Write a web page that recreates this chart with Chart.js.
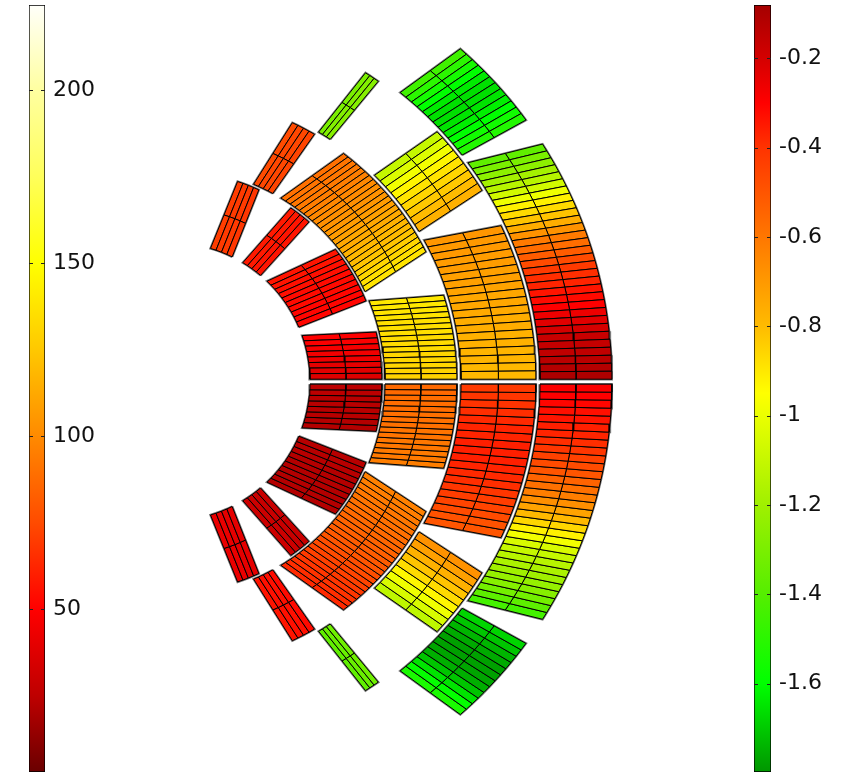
<!DOCTYPE html>
<html>
<head>
<meta charset="utf-8">
<script src="https://cdn.jsdelivr.net/npm/chart.js@4.4.0/dist/chart.umd.min.js"></script>
<style>
  html, body { margin: 0; padding: 0; background: #fff; }
  #wrap { position: relative; width: 851px; height: 773px; }
  #wrap canvas { position: absolute; top: 0; }
</style>
</head>
<body>
<div id="wrap">
  <canvas id="coil" width="851" height="773" style="left:0"></canvas>
  <canvas id="barLeft" width="110" height="773" style="left:0"></canvas>
  <canvas id="barRight" width="111" height="773" style="left:740px"></canvas>
</div>
<script>
// colour bars
const leftRange = [3, 224.7];
const leftTicks = [50, 100, 150, 200];
const leftTickLabels = ['50', '100', '150', '200'];
const rightRange = [-1.798, -0.081];
const rightTicks = [-1.6, -1.4, -1.2, -1, -0.8, -0.6, -0.4, -0.2];
const rightTickLabels = ['-1.6', '-1.4', '-1.2', '-1', '-0.8', '-0.6', '-0.4', '-0.2'];

// coil cross-section: layer radii, block edges (deg: lower in, lower out, upper in, upper out)
const layerRadii = [[139, 211], [214, 286], [290, 365], [369, 441]];
const blockLayer = [0, 0, 0, 0, 1, 1, 1, 2, 2, 2, 3, 3];
const blockCables = [8, 10, 4, 4, 15, 23, 4, 19, 9, 3, 31, 12];
const blockEdges = [
  [1.03, 0.68, 19.4, 13.6],
  [23.1, 22.5, 46.3, 38.8],
  [49.9, 49.2, 58.9, 55.4],
  [63.9, 65.4, 73.5, 71.6],
  [0.67, 0.5, 22.2, 17.6],
  [24.9, 27.0, 59.1, 52.9],
  [61.6, 59.9, 67.3, 64.9],
  [0.49, 0.39, 29.2, 25.3],
  [31.2, 31.6, 45.4, 43.2],
  [56.7, 55.4, 59.4, 57.8],
  [0.39, 0.32, 36.4, 32.6],
  [37.9, 36.4, 51.6, 49.0]
];

// value per cable, first cable next to the midplane
const upperValues = [
  [-0.22, -0.23, -0.24, -0.26, -0.27, -0.28, -0.29, -0.30],
  [-0.31, -0.31, -0.31, -0.32, -0.32, -0.32, -0.33, -0.33, -0.34, -0.34],
  [-0.34, -0.34, -0.35, -0.35],
  [-0.41, -0.42, -0.42, -0.43],
  [-0.85, -0.85, -0.86, -0.86, -0.86, -0.87, -0.87, -0.87, -0.88, -0.88, -0.88, -0.89, -0.89, -0.90, -0.90],
  [-0.89, -0.88, -0.86, -0.84, -0.82, -0.80, -0.79, -0.77, -0.75, -0.74, -0.72, -0.71, -0.69, -0.68, -0.67, -0.66, -0.65, -0.63, -0.62, -0.61, -0.60, -0.59, -0.58],
  [-0.45, -0.46, -0.46, -0.47],
  [-0.79, -0.79, -0.78, -0.78, -0.77, -0.77, -0.76, -0.76, -0.75, -0.74, -0.74, -0.73, -0.72, -0.72, -0.71, -0.71, -0.70, -0.70, -0.69],
  [-0.77, -0.80, -0.83, -0.86, -0.89, -0.93, -0.98, -1.04, -1.10],
  [-1.27, -1.28, -1.30],
  [-0.10, -0.12, -0.135, -0.15, -0.16, -0.17, -0.20, -0.23, -0.26, -0.30, -0.32, -0.34, -0.37, -0.39, -0.42, -0.47, -0.52, -0.57, -0.61, -0.68, -0.76, -0.82, -0.87, -0.92, -0.99, -1.07, -1.14, -1.19, -1.25, -1.30, -1.37],
  [-1.52, -1.56, -1.60, -1.63, -1.65, -1.66, -1.66, -1.64, -1.60, -1.55, -1.50, -1.45]
];
const lowerValues = [
  [-0.14, -0.14, -0.13, -0.13, -0.13, -0.13, -0.12, -0.12],
  [-0.13, -0.13, -0.13, -0.12, -0.12, -0.12, -0.12, -0.12, -0.12, -0.12],
  [-0.17, -0.17, -0.18, -0.18],
  [-0.24, -0.24, -0.25, -0.25],
  [-0.56, -0.56, -0.57, -0.57, -0.57, -0.58, -0.58, -0.58, -0.59, -0.59, -0.60, -0.60, -0.61, -0.61, -0.62],
  [-0.63, -0.62, -0.61, -0.60, -0.59, -0.58, -0.57, -0.56, -0.55, -0.54, -0.53, -0.52, -0.51, -0.50, -0.48, -0.47, -0.45, -0.44, -0.42, -0.41, -0.40, -0.39, -0.38],
  [-0.32, -0.33, -0.33, -0.34],
  [-0.42, -0.41, -0.40, -0.39, -0.38, -0.37, -0.37, -0.36, -0.36, -0.36, -0.37, -0.38, -0.39, -0.41, -0.43, -0.45, -0.47, -0.49, -0.50],
  [-0.68, -0.72, -0.77, -0.82, -0.87, -0.93, -0.99, -1.05, -1.12],
  [-1.33, -1.35, -1.37],
  [-0.29, -0.30, -0.31, -0.33, -0.34, -0.36, -0.37, -0.39, -0.41, -0.44, -0.47, -0.50, -0.54, -0.58, -0.62, -0.67, -0.73, -0.79, -0.86, -0.92, -0.98, -1.05, -1.10, -1.14, -1.17, -1.20, -1.23, -1.27, -1.32, -1.38, -1.44],
  [-1.68, -1.71, -1.74, -1.76, -1.78, -1.78, -1.77, -1.75, -1.71, -1.65, -1.59, -1.54]
];

// colour maps
const leftStops = [
  [3, [106, 0, 0]], [25, [190, 0, 0]], [50, [255, 0, 0]], [75, [255, 75, 0]],
  [100, [255, 138, 0]], [125, [255, 200, 0]], [150, [255, 255, 0]], [175, [255, 255, 90]],
  [200, [255, 255, 160]], [224.7, [255, 255, 250]]
];
const rightStops = [
  [-1.798, [0, 150, 0]], [-1.6, [0, 255, 0]], [-1.4, [85, 238, 0]], [-1.2, [160, 240, 0]],
  [-1.0, [235, 255, 0]], [-0.95, [255, 255, 0]], [-0.8, [255, 187, 0]], [-0.6, [255, 119, 0]],
  [-0.4, [255, 51, 0]], [-0.3, [255, 0, 0]], [-0.2, [212, 0, 0]], [-0.081, [165, 0, 0]]
];

const rgb = c => `rgb(${Math.round(c[0])},${Math.round(c[1])},${Math.round(c[2])})`;
function colorAt(stops, v) {
  if (v <= stops[0][0]) return rgb(stops[0][1]);
  for (let i = 1; i < stops.length; i++) {
    if (v <= stops[i][0]) {
      const t = (v - stops[i - 1][0]) / (stops[i][0] - stops[i - 1][0]);
      const a = stops[i - 1][1], b = stops[i][1];
      return rgb([0, 1, 2].map(k => a[k] + (b[k] - a[k]) * t));
    }
  }
  return rgb(stops[stops.length - 1][1]);
}

// build polygons for every cable cell
const rad = Math.PI / 180;
const polar = (r, deg, side) => ({ x: r * Math.cos(deg * rad), y: side * r * Math.sin(deg * rad) });
const mid = (p, q) => ({ x: (p.x + q.x) / 2, y: (p.y + q.y) / 2 });

const datasets = [];
[1, -1].forEach(side => {
  const values = side > 0 ? upperValues : lowerValues;
  blockEdges.forEach((e, b) => {
    const [rIn, rOut] = layerRadii[blockLayer[b]];
    const n = blockCables[b];
    const inner = [], outer = [];
    for (let i = 0; i <= n; i++) {
      inner.push(polar(rIn, e[0] + (e[2] - e[0]) * i / n, side));
      outer.push(polar(rOut, e[1] + (e[3] - e[1]) * i / n, side));
    }
    for (let i = 0; i < n; i++) {
      const a = inner[i], o1 = outer[i], o2 = outer[i + 1], d = inner[i + 1];
      const m1 = mid(a, o1), m2 = mid(d, o2);
      const col = colorAt(rightStops, values[b][i]);
      [[a, m1, m2, d, a], [m1, o1, o2, m2, m1]].forEach(pts => {
        datasets.push({
          data: pts, fill: 'shape', backgroundColor: col,
          borderColor: '#000', borderWidth: 1,
          pointRadius: 0, tension: 0, order: 1
        });
      });
    }
    datasets.push({
      data: inner.concat(outer.slice().reverse(), [inner[0]]),
      fill: false, borderColor: '#7a7a7a', borderWidth: 2.4,
      pointRadius: 0, tension: 0, order: 2
    });
  });
});

new Chart(document.getElementById('coil'), {
  type: 'line',
  data: { datasets },
  options: {
    responsive: false,
    animation: false,
    events: [],
    layout: { padding: 0 },
    plugins: { legend: { display: false }, tooltip: { enabled: false } },
    scales: {
      x: { type: 'linear', display: false, min: -171, max: 680 },
      y: { type: 'linear', display: false, min: -391.3, max: 381.7 }
    }
  }
});

// colour bar helpers
function barGradient(stops, range) {
  return (context) => {
    const chart = context.chart;
    if (!chart.chartArea) return 'transparent';
    const y = chart.scales.y;
    const g = chart.ctx.createLinearGradient(0, y.getPixelForValue(range[0]), 0, y.getPixelForValue(range[1]));
    stops.forEach(([v, c]) => g.addColorStop((v - range[0]) / (range[1] - range[0]), rgb(c)));
    return g;
  };
}

const barTicks = {
  id: 'barTicks',
  afterDatasetsDraw(chart, args, opts) {
    const { ctx, chartArea: a, scales: { y } } = chart;
    ctx.save();
    ctx.strokeStyle = '#222';
    ctx.lineWidth = 1;
    opts.values.forEach(v => {
      const py = Math.round(y.getPixelForValue(v)) + 0.5;
      ctx.beginPath();
      ctx.moveTo(a.left, py); ctx.lineTo(a.left + 4, py);
      ctx.moveTo(a.right - 4, py); ctx.lineTo(a.right, py);
      ctx.stroke();
    });
    ctx.restore();
  }
};

function colourBar(id, range, stops, ticks, labels, padLeft, axisWidth) {
  new Chart(document.getElementById(id), {
    type: 'bar',
    data: {
      labels: [''],
      datasets: [{
        data: [[range[0], range[1]]],
        backgroundColor: barGradient(stops, range),
        borderColor: '#000', borderWidth: 1, borderSkipped: false,
        barPercentage: 1, categoryPercentage: 1
      }]
    },
    plugins: [barTicks],
    options: {
      responsive: false,
      animation: false,
      events: [],
      layout: { padding: { left: padLeft, top: 5, bottom: 1, right: 0 } },
      plugins: { legend: { display: false }, tooltip: { enabled: false }, barTicks: { values: ticks } },
      scales: {
        x: { display: false },
        y: {
          position: 'right', min: range[0], max: range[1],
          afterBuildTicks: s => { s.ticks = ticks.map(v => ({ value: v })); },
          afterFit: s => { s.width = axisWidth; s.paddingTop = 0; s.paddingBottom = 0; },
          grid: { display: false, drawTicks: false },
          border: { display: false },
          ticks: {
            padding: 8, color: '#111',
            font: { family: 'DejaVu Sans', size: 22 },
            callback: v => labels[ticks.indexOf(v)]
          }
        }
      }
    }
  });
}

colourBar('barLeft', leftRange, leftStops, leftTicks, leftTickLabels, 29, 65);
colourBar('barRight', rightRange, rightStops, rightTicks, rightTickLabels, 14, 80);
</script>
</body>
</html>
